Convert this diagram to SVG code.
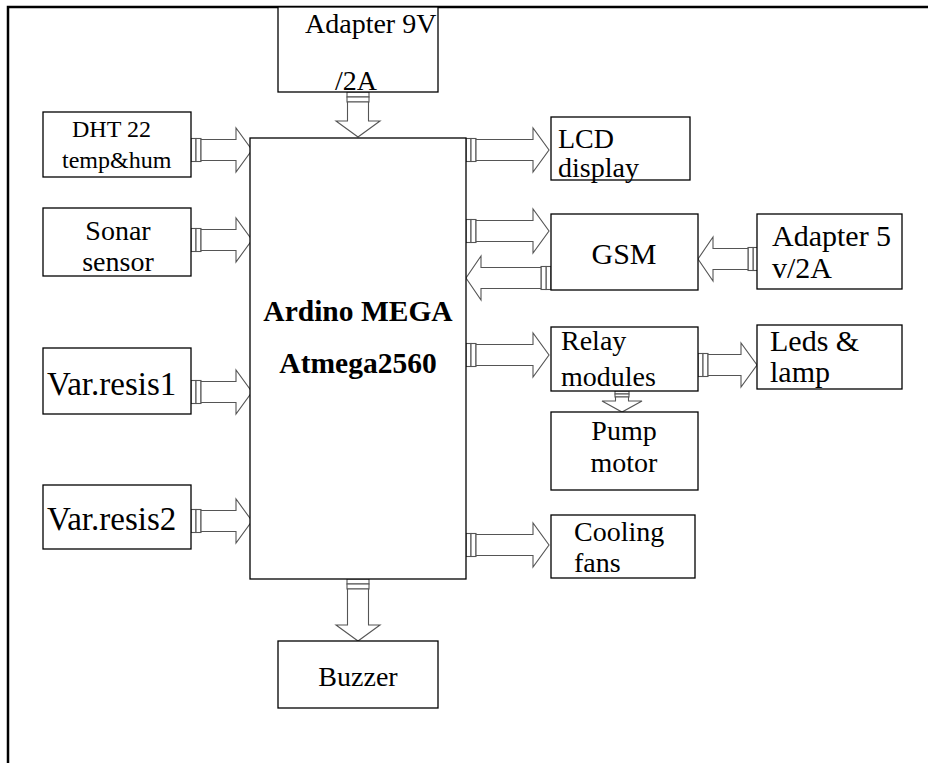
<svg xmlns="http://www.w3.org/2000/svg" width="928" height="763" viewBox="0 0 928 763">
<style>
.box{fill:#fff;stroke:#000;stroke-width:1.3}
.t{font-family:"Liberation Serif","Times New Roman",serif;font-size:28px;fill:#000}
.s{font-size:24px}
.l{font-size:30px}
.v{font-size:33px}
.b{font-weight:bold;font-size:29.5px}
.m{text-anchor:middle}
.arr rect,.arr path{fill:#fff;stroke:#555;stroke-width:1.1}
</style>
<rect width="928" height="763" fill="#fff"/>
<path d="M8,763 V7 H928" fill="none" stroke="#000" stroke-width="2.5"/>

<g id="connectors">
  <g class="arr" transform="translate(358,92) rotate(90)"><rect x="0" y="-11" width="5" height="22"/><rect x="5" y="-11" width="5" height="22"/><path d="M10,-10.5 H29 V-22 L45,0 L29,22 V10.5 H10 Z"/></g>
  <g class="arr" transform="translate(191,150)"><rect x="0" y="-11.5" width="5" height="23"/><rect x="5" y="-11.5" width="5" height="23"/><path d="M10,-10.5 H45 V-22 L61,0 L45,22 V10.5 H10 Z"/></g>
  <g class="arr" transform="translate(191,240)"><rect x="0" y="-11.5" width="5" height="23"/><rect x="5" y="-11.5" width="5" height="23"/><path d="M10,-10.5 H45 V-22 L61,0 L45,22 V10.5 H10 Z"/></g>
  <g class="arr" transform="translate(191,392)"><rect x="0" y="-11.5" width="5" height="23"/><rect x="5" y="-11.5" width="5" height="23"/><path d="M10,-10.5 H45 V-22 L61,0 L45,22 V10.5 H10 Z"/></g>
  <g class="arr" transform="translate(191,521)"><rect x="0" y="-11.5" width="5" height="23"/><rect x="5" y="-11.5" width="5" height="23"/><path d="M10,-10.5 H45 V-22 L61,0 L45,22 V10.5 H10 Z"/></g>
  <g class="arr" transform="translate(466,150)"><rect x="0" y="-11.5" width="5" height="23"/><rect x="5" y="-11.5" width="5" height="23"/><path d="M10,-10.5 H67 V-22 L83,0 L67,22 V10.5 H10 Z"/></g>
  <g class="arr" transform="translate(466,231)"><rect x="0" y="-11.5" width="5" height="23"/><rect x="5" y="-11.5" width="5" height="23"/><path d="M10,-10.5 H67 V-22 L83,0 L67,22 V10.5 H10 Z"/></g>
  <g class="arr" transform="translate(551,278) rotate(180)"><rect x="0" y="-11.5" width="5" height="23"/><rect x="5" y="-11.5" width="5" height="23"/><path d="M10,-10.5 H70 V-22 L85,0 L70,22 V10.5 H10 Z"/></g>
  <g class="arr" transform="translate(758,259) rotate(180)"><rect x="0" y="-11.5" width="5" height="23"/><rect x="5" y="-11.5" width="5" height="23"/><path d="M10,-10.5 H45 V-22 L60,0 L45,22 V10.5 H10 Z"/></g>
  <g class="arr" transform="translate(466,355)"><rect x="0" y="-11.5" width="5" height="23"/><rect x="5" y="-11.5" width="5" height="23"/><path d="M10,-10.5 H67 V-22 L83,0 L67,22 V10.5 H10 Z"/></g>
  <g class="arr" transform="translate(698,365)"><rect x="0" y="-11.5" width="5" height="23"/><rect x="5" y="-11.5" width="5" height="23"/><path d="M10,-10.5 H43 V-22 L59,0 L43,22 V10.5 H10 Z"/></g>
  <g class="arr" transform="translate(622,391) rotate(90)"><rect x="0" y="-7" width="3" height="14"/><rect x="3" y="-7" width="3" height="14"/><path d="M6,-6.5 H10 V-20 L21,0 L10,20 V6.5 H6 Z"/></g>
  <g class="arr" transform="translate(466,545)"><rect x="0" y="-11.5" width="5" height="23"/><rect x="5" y="-11.5" width="5" height="23"/><path d="M10,-10.5 H67 V-22 L83,0 L67,22 V10.5 H10 Z"/></g>
  <g class="arr" transform="translate(358,579) rotate(90)"><rect x="0" y="-11" width="5" height="22"/><rect x="5" y="-11" width="5" height="22"/><path d="M10,-10.5 H46 V-22 L62,0 L46,22 V10.5 H10 Z"/></g>
</g>

<g id="adapter9v"><rect class="box" x="278" y="7" width="160" height="85"/><text class="t" x="305" y="33">Adapter 9V</text><text class="t" x="335" y="90">/2A</text></g>
<g id="dht22"><rect class="box" x="43" y="112" width="148" height="65"/><text class="t s" x="72" y="137">DHT 22</text><text class="t s" x="62" y="168">temp&amp;hum</text></g>
<g id="sonar"><rect class="box" x="43" y="208" width="148" height="68"/><text class="t m" x="118" y="240">Sonar</text><text class="t m" x="118" y="271">sensor</text></g>
<g id="varresis1"><rect class="box" x="43" y="348" width="148" height="66"/><text class="t v" x="47" y="395">Var.resis1</text></g>
<g id="varresis2"><rect class="box" x="43" y="485" width="148" height="64"/><text class="t v" x="47" y="530">Var.resis2</text></g>
<g id="arduino"><rect class="box" x="250" y="138" width="216" height="441"/><text class="t b m" x="358" y="321">Ardino MEGA</text><text class="t b m" x="358" y="373">Atmega2560</text></g>
<g id="lcd"><rect class="box" x="551" y="117" width="139" height="63"/><text class="t" x="558" y="148">LCD</text><text class="t" x="558" y="177">display</text></g>
<g id="gsm"><rect class="box" x="551" y="214" width="147" height="76"/><text class="t l m" x="624" y="264">GSM</text></g>
<g id="adapter5"><rect class="box" x="757" y="214" width="145" height="75"/><text class="t l" x="772" y="246">Adapter 5</text><text class="t l" x="772" y="278">v/2A</text></g>
<g id="relay"><rect class="box" x="551" y="327" width="147" height="64"/><text class="t" x="561" y="350">Relay</text><text class="t" x="561" y="386">modules</text></g>
<g id="leds"><rect class="box" x="757" y="325" width="145" height="64"/><text class="t l" x="770" y="351">Leds &amp;</text><text class="t l" x="770" y="382">lamp</text></g>
<g id="pump"><rect class="box" x="551" y="412" width="147" height="78"/><text class="t m" x="624" y="440">Pump</text><text class="t m" x="624" y="472">motor</text></g>
<g id="cooling"><rect class="box" x="551" y="515" width="144" height="63"/><text class="t" x="574" y="541">Cooling</text><text class="t" x="574" y="572">fans</text></g>
<g id="buzzer"><rect class="box" x="278" y="641" width="160" height="67"/><text class="t m" x="358" y="686">Buzzer</text></g>
</svg>
